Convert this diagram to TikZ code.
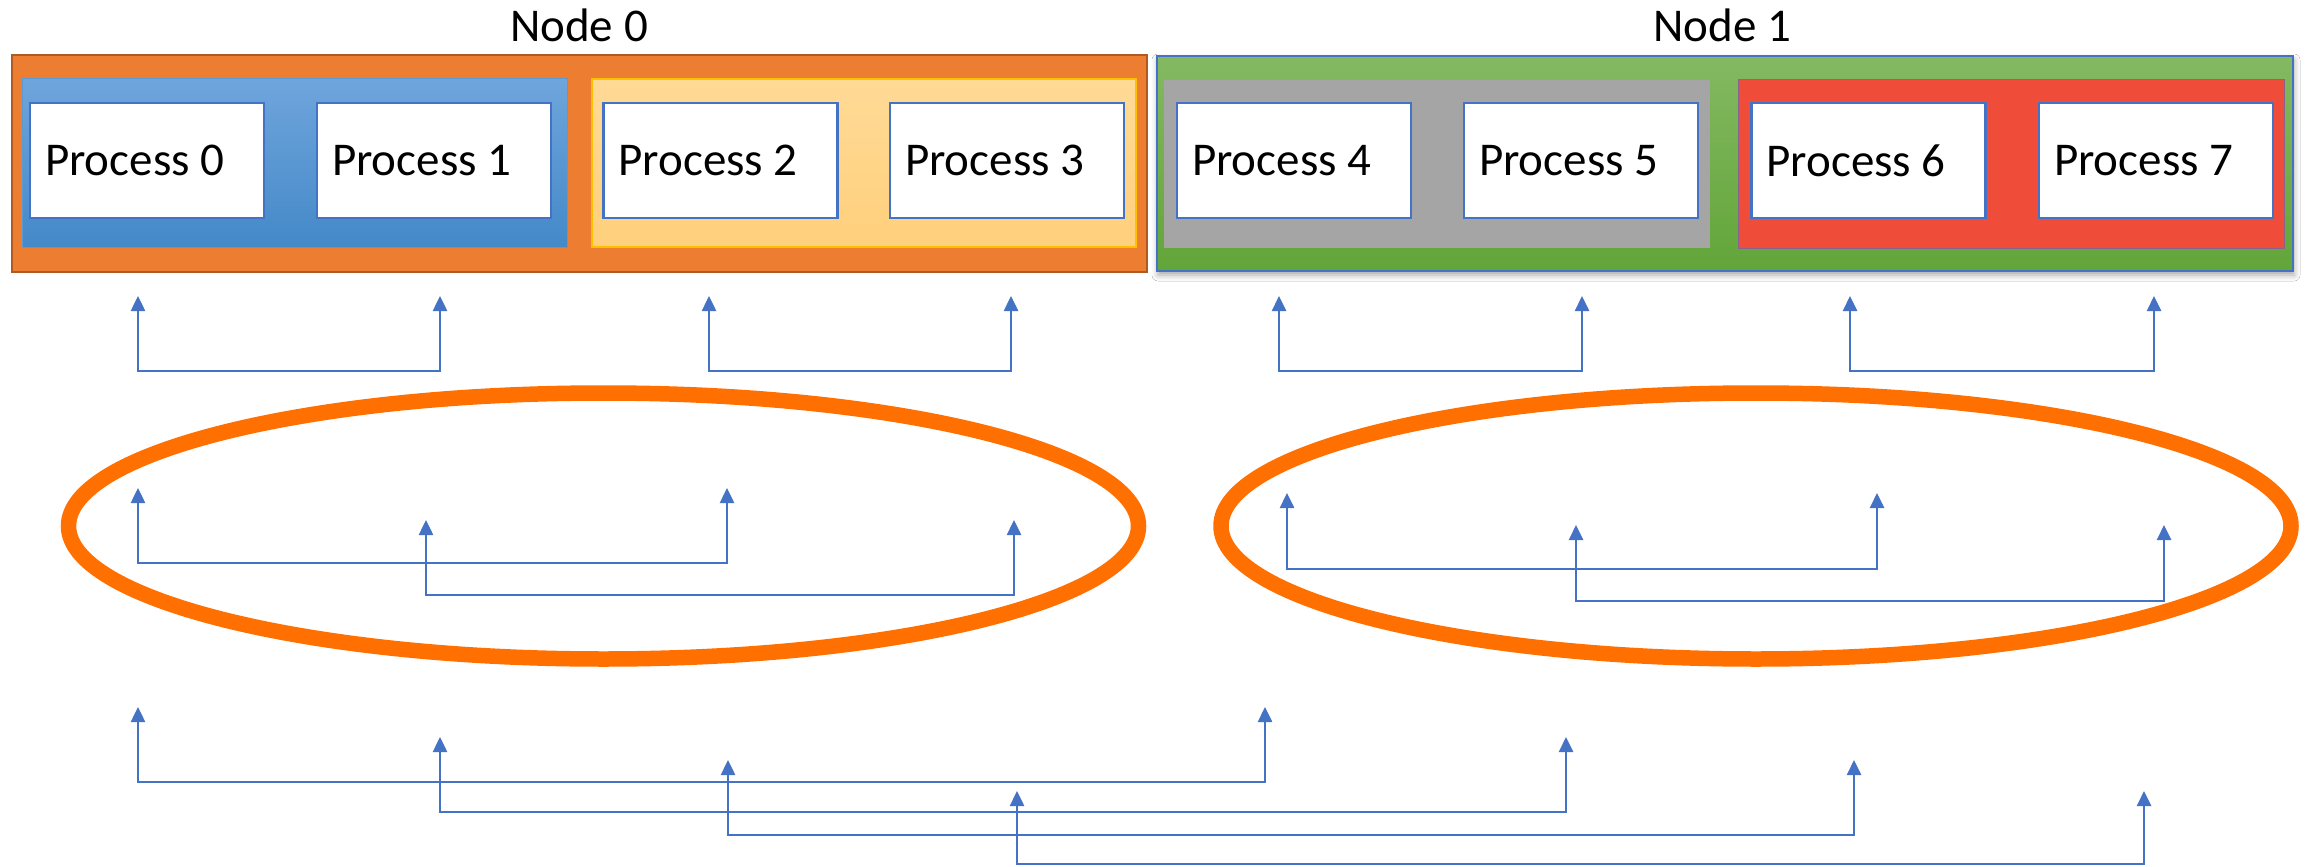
\documentclass[tikz,border=0pt]{standalone}
\usepackage{fontspec}
\setmainfont{Carlito}
\usetikzlibrary{arrows.meta,shapes.geometric,shadows.blur}
\definecolor{orangeBox}{HTML}{ED7D31}
\definecolor{orangeEdge}{HTML}{AE5A21}
\definecolor{blueTop}{HTML}{6FA5DC}
\definecolor{blueBot}{HTML}{4489C8}
\definecolor{blueEdge}{HTML}{5B9BD5}
\definecolor{yelTop}{HTML}{FFDA96}
\definecolor{yelBot}{HTML}{FFD07C}
\definecolor{yelEdge}{HTML}{FFC000}
\definecolor{greenTop}{HTML}{84B962}
\definecolor{greenBot}{HTML}{62A539}
\definecolor{grayFill}{HTML}{A5A5A5}
\definecolor{redFill}{HTML}{F04C3A}
\definecolor{accent}{HTML}{4472C4}
\definecolor{ringOrange}{HTML}{FF7000}
\newcommand\linkpair[5]{%
  \coordinate (#1a) at (#2,#4);
  \coordinate (#1b) at (#3,#4);
  \coordinate (#1m) at ({(#2+#3)/2},#5);
  \draw[link] (#1a) |- (#1m) -| (#1b);}
\begin{document}
\begin{tikzpicture}[x=1pt,y=-1pt,
  font=\fontsize{47}{56}\selectfont,
  hostbox/.style={rectangle,inner sep=0pt,minimum width=#1},
  host0/.style={hostbox=1135pt,minimum height=217pt,fill=orangeBox,draw=orangeEdge,line width=2pt},
  host1/.style={hostbox=1136pt,minimum height=215pt,top color=greenTop,bottom color=greenBot,draw=accent,line width=1.5pt,
     blur shadow={shadow xshift=1pt,shadow yshift=-4pt,shadow blur radius=6pt,shadow opacity=35}},
  group/.style={rectangle,inner sep=0pt,minimum width=545pt,minimum height=168pt},
  proc/.style={rectangle,inner sep=0pt,minimum width=234pt,minimum height=115pt,fill=white,draw=accent,line width=2.5pt},
  ring/.style={ellipse,inner sep=0pt,minimum width=1070pt,minimum height=266pt,draw=ringOrange,line width=15.5pt},
  hostlabel/.style={anchor=base,inner sep=0pt},
  link/.style={draw=accent,line width=2.5pt,{Triangle[length=15pt,width=14pt]}-{Triangle[length=15pt,width=14pt]}}
]
\path[use as bounding box,fill=white] (0,0) rectangle (2308,867);

% host nodes
\node[host0] (n0) at (579.5,163.5) {};
\node[host1] (n1) at (1725,163.5) {};
\node[hostlabel] (l0) at (579,42) {Node 0};
\node[hostlabel] (l1) at (1722,42) {Node 1};

% groups
\node[group,top color=blueTop,bottom color=blueBot,draw=blueEdge,line width=1pt] (g0) at (294.5,163) {};
\node[group,minimum width=544pt,top color=yelTop,bottom color=yelBot,draw=yelEdge,line width=1.5pt] (g1) at (864,163) {};
\node[group,minimum width=546pt,fill=grayFill] (g2) at (1437,164) {};
\node[group,minimum width=546pt,fill=redFill,draw=accent!60!redFill,line width=1pt] (g3) at (2011,164) {};

% processes
\node[proc] (p0) at (147,160.5) {\makebox[204pt][l]{Process 0}};
\node[proc] (p1) at (434,160.5) {\makebox[204pt][l]{Process 1}};
\node[proc] (p2) at (720.5,160.5) {\makebox[204pt][l]{Process 2}};
\node[proc] (p3) at (1007,160.5) {\makebox[204pt][l]{Process 3}};
\node[proc] (p4) at (1294,160.5) {\makebox[204pt][l]{Process 4}};
\node[proc] (p5) at (1581,160.5) {\makebox[204pt][l]{Process 5}};
\node[proc] (p6) at (1868.5,160.5) {\makebox[204pt][l]{Process 6}};
\node[proc] (p7) at (2156,160.5) {\makebox[204pt][l]{Process 7}};

% rings
\node[ring] (e0) at (603.5,526) {};
\node[ring] (e1) at (1756,526) {};

% first level exchanges
\linkpair{ra}{138}{440}{296}{371}
\linkpair{rb}{709}{1011}{296}{371}
\linkpair{rc}{1279}{1582}{296}{371}
\linkpair{rd}{1850}{2154}{296}{371}

% exchanges inside rings
\linkpair{ea}{138}{727}{488}{563}
\linkpair{eb}{426}{1014}{520}{595}
\linkpair{ec}{1287}{1877}{493}{569}
\linkpair{ed}{1576}{2164}{525}{601}

% exchanges between nodes
\linkpair{ba}{138}{1265}{707}{782}
\linkpair{bb}{440}{1566}{737}{812}
\linkpair{bc}{728}{1854}{760}{835}
\linkpair{bd}{1017}{2144}{791}{864}
\end{tikzpicture}
\end{document}
